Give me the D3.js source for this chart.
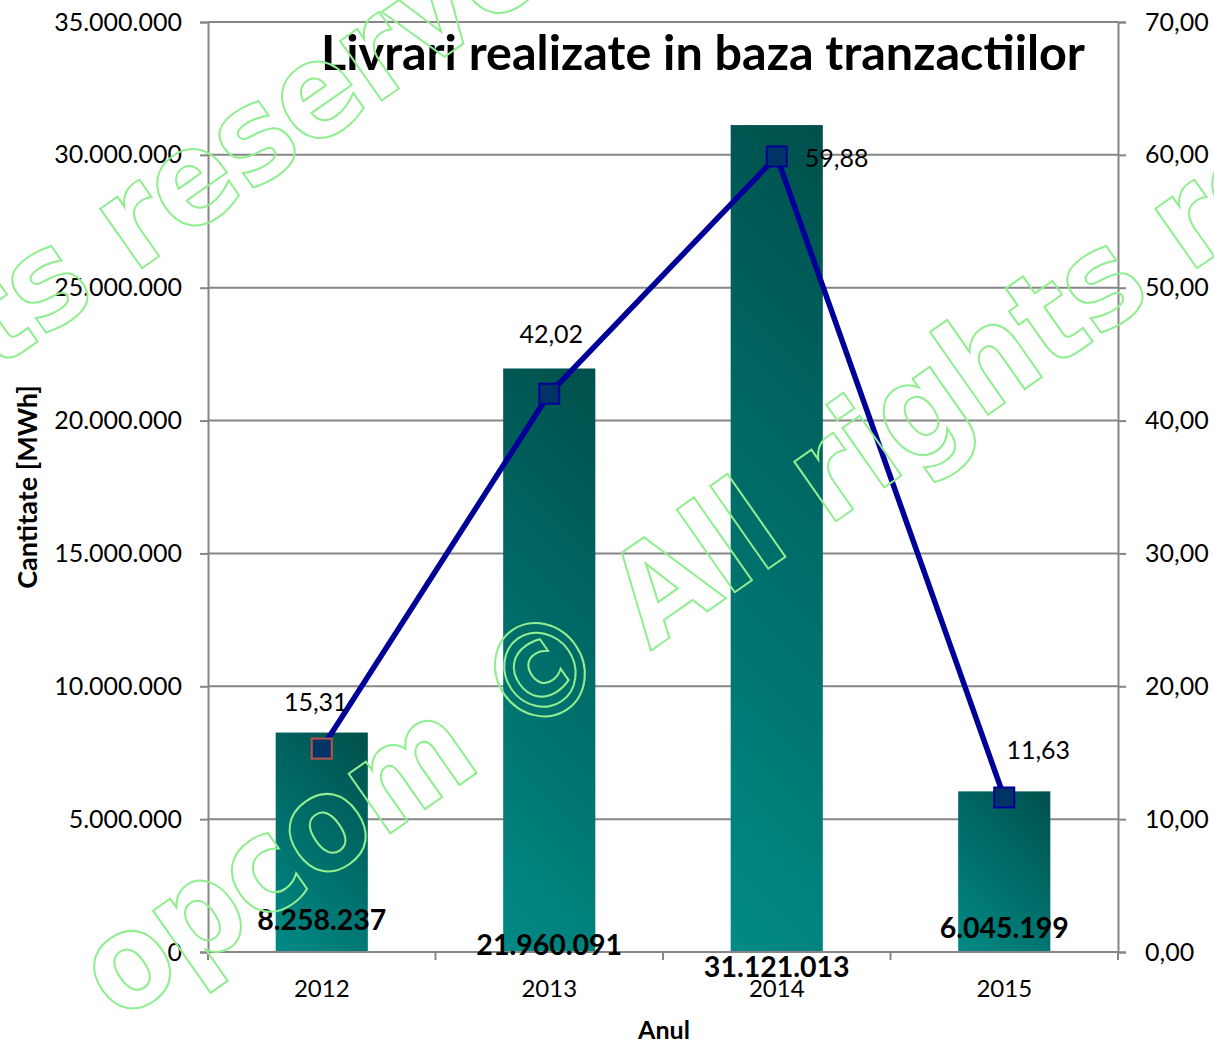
<!DOCTYPE html>
<html>
<head>
<meta charset="utf-8">
<script src="https://cdn.jsdelivr.net/npm/d3@7"></script>
<style>
  body { margin: 0; background: #fff; }
  svg { display: block; }
</style>
</head>
<body>
<div id="chart"></div>
<script>
// date
var ani = ["2012", "2013", "2014", "2015"];
var cantitati = [8258237, 21960091, 31121013, 6045199];
var preturi = [15.31, 42.02, 59.88, 11.63];
var ticksStanga = [0, 5000000, 10000000, 15000000, 20000000, 25000000, 30000000, 35000000];
var ticksDreapta = [0, 10, 20, 30, 40, 50, 60, 70];

// deplasari manuale ale etichetelor (ca in Excel)
var dyCantitate = [-22, 3, 25, -14];
var etPret = [{dx: -6, dy: -38}, {dx: 2, dy: -51}, {dx: 28, dy: 11, a: "start"}, {dx: 34, dy: -38}];

var width = 1214, height = 1044,
    margin = {left: 208, right: 96, top: 22, bottom: 92};

var svg = d3.select("#chart").append("svg")
    .attr("width", width).attr("height", height)
    .style("font-family", "Lato, 'Open Sans', sans-serif");

var x = d3.scaleBand().domain(ani).range([margin.left, width - margin.right]);
var yL = d3.scaleLinear().domain([0, 35000000]).range([height - margin.bottom, margin.top]);
var yR = d3.scaleLinear().domain([0, 70]).range([height - margin.bottom, margin.top]);

var fmtRo = function (v) { return d3.format(",")(v).replace(/,/g, "."); };
var fmt2 = function (v) { return d3.format(".2f")(v).replace(".", ","); };

var gri = "#868686";

// grid
svg.append("g").selectAll("line").data(ticksStanga).enter().append("line")
  .attr("x1", margin.left).attr("x2", width - margin.right)
  .attr("y1", function (d) { return yL(d); }).attr("y2", function (d) { return yL(d); })
  .attr("stroke", gri).attr("stroke-width", 2);

// gradient per bara
var defs = svg.append("defs");
var barW = x.bandwidth() * 0.405;
cantitati.forEach(function (v, i) {
  var x0 = x(ani[i]) + (x.bandwidth() - barW) / 2, y0 = yL(v), h = yL(0) - yL(v);
  var g = defs.append("linearGradient").attr("id", "gr" + i)
    .attr("gradientUnits", "userSpaceOnUse")
    .attr("x1", x0 + barW).attr("y1", y0)
    .attr("x2", x0 + barW - (barW + h) / 2).attr("y2", y0 + (barW + h) / 2);
  g.append("stop").attr("offset", 0).attr("stop-color", "#00504c");
  g.append("stop").attr("offset", 1).attr("stop-color", "#008a86");
});

svg.append("g").selectAll("rect").data(cantitati).enter().append("rect")
  .attr("x", function (d, i) { return x(ani[i]) + (x.bandwidth() - barW) / 2; })
  .attr("y", function (d) { return yL(d); })
  .attr("width", barW)
  .attr("height", function (d) { return yL(0) - yL(d); })
  .attr("fill", function (d, i) { return "url(#gr" + i + ")"; });

// axe
var axL = svg.append("g").attr("transform", "translate(" + margin.left + ",0)")
  .call(d3.axisLeft(yL).tickValues(ticksStanga).tickSize(8).tickPadding(18).tickFormat(fmtRo));
var axR = svg.append("g").attr("transform", "translate(" + (width - margin.right) + ",0)")
  .call(d3.axisRight(yR).tickValues(ticksDreapta).tickSize(8).tickPadding(19).tickFormat(fmt2));
var axB = svg.append("g").attr("transform", "translate(0," + yL(0) + ")")
  .call(d3.axisBottom(x).tickSize(0).tickPadding(28));
axB.selectAll(".domain").remove();
svg.append("line").attr("x1", margin.left).attr("x2", width - margin.right)
  .attr("y1", yL(0)).attr("y2", yL(0)).attr("stroke", gri).attr("stroke-width", 2);
svg.append("g").selectAll("line").data(d3.range(ani.length + 1)).enter().append("line")
  .attr("x1", function (d) { return margin.left + d * x.step(); })
  .attr("x2", function (d) { return margin.left + d * x.step(); })
  .attr("y1", yL(0)).attr("y2", yL(0) + 8)
  .attr("stroke", gri).attr("stroke-width", 2);

[axL, axR, axB].forEach(function (a) {
  a.selectAll(".domain").attr("stroke", gri).attr("stroke-width", 2);
  a.selectAll(".tick line").attr("stroke", gri).attr("stroke-width", 2);
  a.selectAll("text").attr("font-size", 25).attr("fill", "#000").style("font-family", "Lato, sans-serif");
});
axB.selectAll(".tick text").attr("font-size", 24);

// linia pret
var cx = function (i) { return x(ani[i]) + x.bandwidth() / 2; };
svg.append("path").datum(preturi)
  .attr("d", d3.line().x(function (d, i) { return cx(i); }).y(function (d) { return yR(d); }))
  .attr("fill", "none").attr("stroke", "#000099").attr("stroke-width", 5.5);
svg.append("g").selectAll("rect").data(preturi).enter().append("rect")
  .attr("x", function (d, i) { return cx(i) - 10; })
  .attr("y", function (d) { return yR(d) - 10; })
  .attr("width", 20).attr("height", 20)
  .attr("fill", "#003366")
  .attr("stroke", function (d, i) { return i === 0 ? "#c0504d" : "#000099"; })
  .attr("stroke-width", 2);

svg.append("g").selectAll("text").data(preturi).enter().append("text")
  .attr("x", function (d, i) { return cx(i) + etPret[i].dx; })
  .attr("y", function (d, i) { return yR(d) + etPret[i].dy; })
  .attr("text-anchor", function (d, i) { return etPret[i].a || "middle"; })
  .attr("font-size", 25)
  .text(fmt2);

// etichete cantitati
svg.append("g").selectAll("text").data(cantitati).enter().append("text")
  .attr("x", function (d, i) { return cx(i); })
  .attr("y", function (d, i) { return yL(0) + dyCantitate[i]; })
  .attr("text-anchor", "middle")
  .attr("font-size", 28.5).attr("font-weight", "bold")
  .text(fmtRo);

// titluri
svg.append("text").attr("x", 703).attr("y", 70).attr("text-anchor", "middle")
  .attr("font-size", 48.5).attr("font-weight", "bold")
  .text("Livrari realizate in baza tranzactiilor");
svg.append("text").attr("x", 664).attr("y", 1039).attr("text-anchor", "middle")
  .attr("font-size", 25).attr("font-weight", "bold").text("Anul");
svg.append("text").attr("transform", "translate(37,487) rotate(-90)").attr("text-anchor", "middle")
  .attr("font-size", 27).attr("font-weight", "bold").text("Cantitate [MWh]");

// watermark - pozitionat dupa centrul semnului ©
var wmText = "opcom © All rights reserved", wmUnghi = -35, wmSize = 133;
var wm = svg.append("g").attr("pointer-events", "none");
[[540, 670], [-515, 670]].forEach(function (p) {
  var t = wm.append("text")
    .attr("font-family", "'DejaVu Sans Condensed', 'DejaVu Sans', sans-serif")
    .attr("font-weight", "bold")
    .attr("font-size", wmSize)
    .attr("fill", "none").attr("stroke", "#90ee90").attr("stroke-width", 2)
    .text(wmText);
  var k = wmText.indexOf("©");
  var node = t.node();
  var cxC = node.getSubStringLength(0, k) + node.getSubStringLength(k, 1) / 2;
  var cyC = -0.36 * wmSize;
  var a = wmUnghi * Math.PI / 180;
  var ox = cxC * Math.cos(a) - cyC * Math.sin(a);
  var oy = cxC * Math.sin(a) + cyC * Math.cos(a);
  t.attr("transform", "translate(" + (p[0] - ox) + "," + (p[1] - oy) + ") rotate(" + wmUnghi + ")");
});
</script>
</body>
</html>
